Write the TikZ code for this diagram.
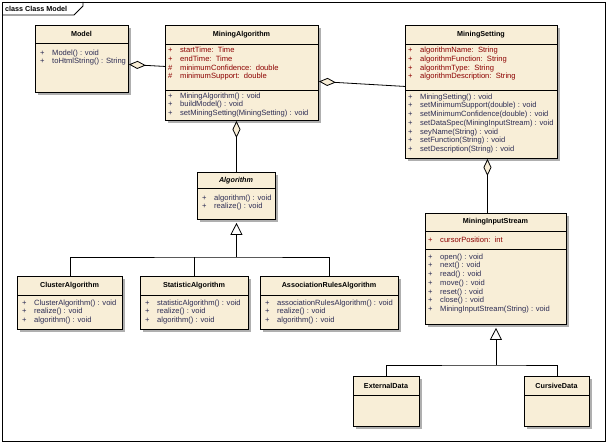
\documentclass[tikz,border=0pt]{standalone}
\usepackage{fontspec}
\setmainfont{Liberation Sans}
\usetikzlibrary{arrows.meta,shadows}
\definecolor{classfill}{RGB}{248,238,215}
\definecolor{shadowgray}{RGB}{175,175,175}
\definecolor{attrred}{RGB}{140,0,0}
\definecolor{opgray}{RGB}{45,45,85}
\tikzset{
  umlbox/.style={draw, line width=0.9pt, fill=classfill, anchor=north west, inner sep=0pt,
    drop shadow={shadow xshift=3pt, shadow yshift=-3pt, fill=shadowgray, opacity=1}},
  classname/.style={font=\fontsize{7.2}{8.7}\selectfont\bfseries, inner sep=0pt},
  members/.style={font=\fontsize{7.6}{8.7}\selectfont, align=left, anchor=north west, inner sep=0pt},
  aggr/.style={line width=0.8pt, {Diamond[open, fill=classfill, length=17pt, width=8pt]}-},
  gen/.style={line width=0.8pt, -{Triangle[open, fill=white, length=12pt, width=12pt]}}
}
\newcommand{\mbr}[2]{\makebox[12pt][l]{#1}#2}

\begin{document}
\begin{tikzpicture}[x=1pt, y=-1pt]
\useasboundingbox (0,0) rectangle (607,443);
% frame and tab
\draw[line width=0.8pt] (2,2) rectangle (605,441);
\draw[line width=0.8pt] (2,15) -- (74,15) -- (83,6) -- (83,2);
\node[classname, anchor=west] (tab) at (5,8.5) {class Class Model};

% classes
\node[umlbox, minimum width=93pt, minimum height=67pt] (model) at (35,25) {};
\node[umlbox, minimum width=153pt, minimum height=95pt] (ma) at (165,25) {};
\node[umlbox, minimum width=152pt, minimum height=133pt] (ms) at (405,25) {};
\node[umlbox, minimum width=78pt, minimum height=47pt] (algo) at (197,172) {};
\node[umlbox, minimum width=105pt, minimum height=53pt] (cluster) at (17,276) {};
\node[umlbox, minimum width=108pt, minimum height=53pt] (stat) at (140,276) {};
\node[umlbox, minimum width=138pt, minimum height=53pt] (assoc) at (260,276) {};
\node[umlbox, minimum width=141pt, minimum height=111pt] (mis) at (425,213) {};
\node[umlbox, minimum width=66pt, minimum height=50pt] (ext) at (353,376) {};
\node[umlbox, minimum width=65pt, minimum height=50pt] (cur) at (524,376) {};

% compartments
\draw (model.west |- 0,43) -- (model.east |- 0,43);
\draw (ma.west |- 0,44) -- (ma.east |- 0,44);
\draw (ma.west |- 0,90) -- (ma.east |- 0,90);
\draw (ms.west |- 0,44) -- (ms.east |- 0,44);
\draw (ms.west |- 0,90) -- (ms.east |- 0,90);
\draw (algo.west |- 0,188) -- (algo.east |- 0,188);
\draw (cluster.west |- 0,295) -- (cluster.east |- 0,295);
\draw (stat.west |- 0,295) -- (stat.east |- 0,295);
\draw (assoc.west |- 0,295) -- (assoc.east |- 0,295);
\draw (mis.west |- 0,231) -- (mis.east |- 0,231);
\draw (mis.west |- 0,249) -- (mis.east |- 0,249);
\draw (ext.west |- 0,395) -- (ext.east |- 0,395);
\draw (cur.west |- 0,395) -- (cur.east |- 0,395);

% names
\node[classname] (model-name) at (81.5,34) {Model};
\node[classname] (ma-name) at (241.5,35) {MiningAlgorithm};
\node[classname] (ms-name) at (481,35) {MiningSetting};
\node[classname, font=\fontsize{7.2}{8.7}\selectfont\bfseries\itshape] (algo-name) at (236,180.5) {Algorithm};
\node[classname] (cluster-name) at (69.5,285.5) {ClusterAlgorithm};
\node[classname] (stat-name) at (194,285.5) {StatisticAlgorithm};
\node[classname] (assoc-name) at (329,285.5) {AssociationRulesAlgorithm};
\node[classname] (mis-name) at (495.5,222) {MiningInputStream};
\node[classname] (ext-name) at (386,385.5) {ExternalData};
\node[classname] (cur-name) at (556.5,385.5) {CursiveData};

% members
\node[members, text=opgray] (model-ops) at (40,49.5)
  {\mbr{+}{Model() : void}\\ \mbr{+}{toHtmlString() : String}};
\node[members, text=attrred] (ma-attr) at (168,47)
  {\mbr{+}{startTime:\ \ Time}\\ \mbr{+}{endTime:\ \ Time}\\
   \mbr{\#}{minimumConfidence:\ \ double}\\ \mbr{\#}{minimumSupport:\ \ double}};
\node[members, text=opgray] (ma-ops) at (168,92.5)
  {\mbr{+}{MiningAlgorithm() : void}\\ \mbr{+}{buildModel() : void}\\
   \mbr{+}{setMiningSetting(MiningSetting) : void}};
\node[members, text=attrred] (ms-attr) at (408,47)
  {\mbr{+}{algorithmName:\ \ String}\\ \mbr{+}{algorithmFunction:\ \ String}\\
   \mbr{+}{algorithmType:\ \ String}\\ \mbr{+}{algorithmDescription:\ \ String}};
\node[members, text=opgray] (ms-ops) at (408,93.5)
  {\mbr{+}{MiningSetting() : void}\\ \mbr{+}{setMinimumSupport(double) : void}\\
   \mbr{+}{setMinimumConfidence(double) : void}\\ \mbr{+}{setDataSpec(MiningInputStream) : void}\\
   \mbr{+}{seyName(String) : void}\\ \mbr{+}{setFunction(String) : void}\\
   \mbr{+}{setDescription(String) : void}};
\node[members, text=opgray] (algo-ops) at (202,194.5)
  {\mbr{+}{algorithm() : void}\\ \mbr{+}{realize() : void}};
\node[members, text=opgray] (cluster-ops) at (22,299.5)
  {\mbr{+}{ClusterAlgorithm() : void}\\ \mbr{+}{realize() : void}\\ \mbr{+}{algorithm() : void}};
\node[members, text=opgray] (stat-ops) at (145,299.5)
  {\mbr{+}{statisticAlgorithm() : void}\\ \mbr{+}{realize() : void}\\ \mbr{+}{algorithm() : void}};
\node[members, text=opgray] (assoc-ops) at (265,299.5)
  {\mbr{+}{associationRulesAlgorithm() : void}\\ \mbr{+}{realize() : void}\\ \mbr{+}{algorithm() : void}};
\node[members, text=attrred] (mis-attr) at (428,236.5)
  {\mbr{+}{cursorPosition:\ \ int}};
\node[members, text=opgray] (mis-ops) at (428,253.5)
  {\mbr{+}{open() : void}\\ \mbr{+}{next() : void}\\ \mbr{+}{read() : void}\\
   \mbr{+}{move() : void}\\ \mbr{+}{reset() : void}\\ \mbr{+}{close() : void}\\
   \mbr{+}{MiningInputStream(String) : void}};

% aggregations
\draw[aggr] ([yshift=-5.5pt]model.east) -- ([yshift=6.5pt]ma.west);
\draw[aggr] ([yshift=-8.5pt]ma.east) -- ([yshift=5.5pt]ms.west);
\draw[aggr] (algo.north |- ma.south) -- (algo.north);
\draw[aggr] ([xshift=6pt]ms.south) -- ([xshift=6pt]ms.south |- mis.north);

% generalizations
\coordinate (algobus) at (algo.south |- 0,257);
\draw[gen] (algobus) -- ([yshift=-3pt]algo.south);
\draw (cluster.north) |- (algobus) -| (assoc.north);
\draw (stat.north) -- (stat.north |- algobus);
\coordinate (misbus) at (mis.south |- 0,365);
\draw[gen] (misbus) -- ([yshift=-3pt]mis.south);
\draw (ext.north) |- (misbus) -| (cur.north);
\end{tikzpicture}
\end{document}
